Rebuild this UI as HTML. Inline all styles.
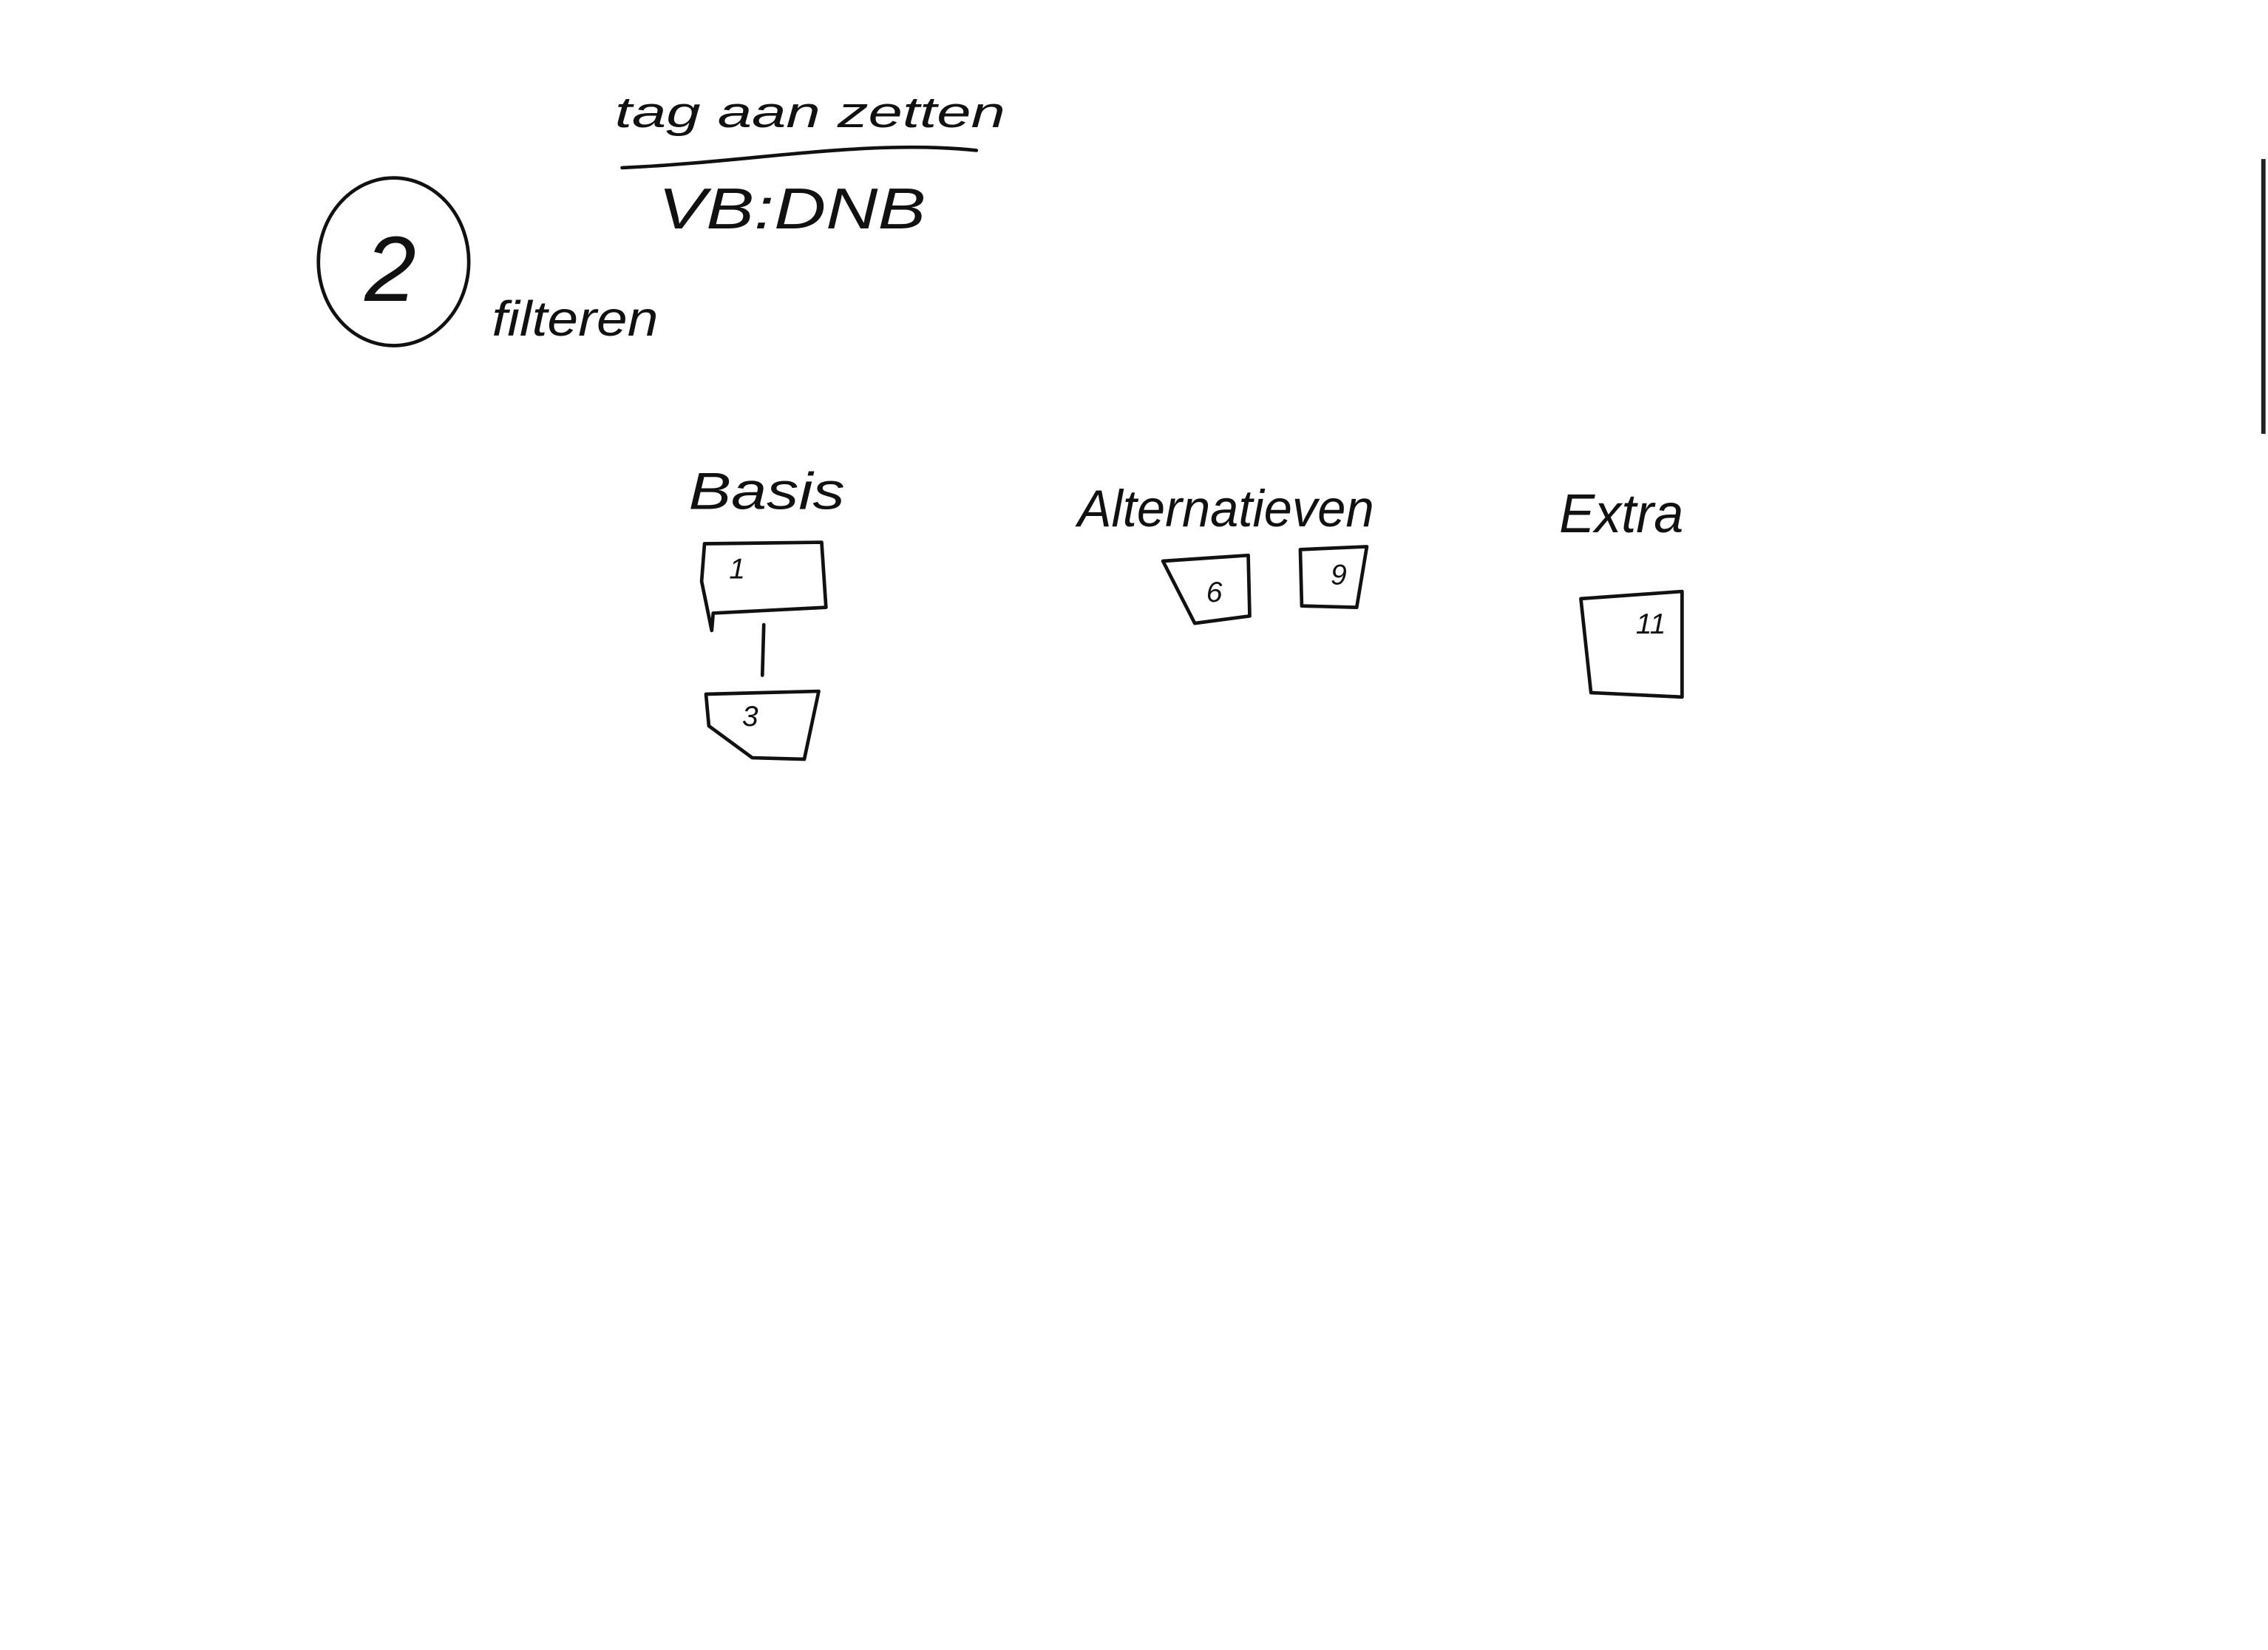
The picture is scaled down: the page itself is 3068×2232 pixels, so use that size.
<!DOCTYPE html>
<html>
<head>
<meta charset="utf-8">
<style>
  html, body { margin: 0; padding: 0; background: #ffffff; }
  body { width: 3068px; height: 2232px; overflow: hidden; }
  svg { display: block; }
  .ink { fill: none; stroke: #111; stroke-width: 2.4; stroke-linecap: round; stroke-linejoin: round; }
  .hand { font-family: "Liberation Sans", sans-serif; font-style: italic; fill: #111; }
</style>
</head>
<body>
<svg width="3068" height="2232" viewBox="0 0 1568 1141" xmlns="http://www.w3.org/2000/svg">
  <rect x="0" y="0" width="1568" height="1141" fill="#ffffff"/>

  <!-- right edge scan artifact -->
  <line x1="1565" y1="110" x2="1565" y2="300" stroke="#222" stroke-width="3"/>

  <!-- header: tag aanzetten / VB:DNB -->
  <text class="hand" x="425" y="88" font-size="30" textLength="270" lengthAdjust="spacingAndGlyphs">tag  aan zetten</text>
  <path class="ink" d="M430 116 C 520 112, 600 96, 675 104"/>
  <text class="hand" x="455" y="158" font-size="40" textLength="185" lengthAdjust="spacingAndGlyphs">VB:DNB</text>

  <!-- step 2 circle -->
  <ellipse class="ink" cx="272" cy="181" rx="52" ry="58"/>
  <text class="hand" x="252" y="208" font-size="64">2</text>
  <text class="hand" x="340" y="232" font-size="34" textLength="115" lengthAdjust="spacingAndGlyphs">filteren</text>

  <!-- Basis column -->
  <text class="hand" x="476" y="352" font-size="36" textLength="108" lengthAdjust="spacingAndGlyphs">Basis</text>
  <path class="ink" d="M487 376 L568 375 L571 420 L493 424 L492 436 L485 402 Z"/>
  <text class="hand" x="504" y="400" font-size="20">1</text>
  <line class="ink" x1="528" y1="432" x2="527" y2="467"/>
  <path class="ink" d="M488 480 L566 478 L556 525 L520 524 L490 502 Z"/>
  <text class="hand" x="513" y="502" font-size="20">3</text>

  <!-- Alternatieven column -->
  <text class="hand" x="745" y="364" font-size="36" textLength="205" lengthAdjust="spacingAndGlyphs">Alternatieven</text>
  <path class="ink" d="M804 388 L863 384 L864 426 L826 431 Z"/>
  <text class="hand" x="834" y="416" font-size="20">6</text>
  <path class="ink" d="M899 380 L945 378 L938 420 L900 419 Z"/>
  <text class="hand" x="920" y="404" font-size="20">9</text>

  <!-- Extra column -->
  <text class="hand" x="1078" y="368" font-size="38" textLength="86" lengthAdjust="spacingAndGlyphs">Extra</text>
  <path class="ink" d="M1093 414 L1163 409 L1163 482 L1100 479 Z"/>
  <text class="hand" x="1131" y="438" font-size="20">11</text>
</svg>
</body>
</html>
